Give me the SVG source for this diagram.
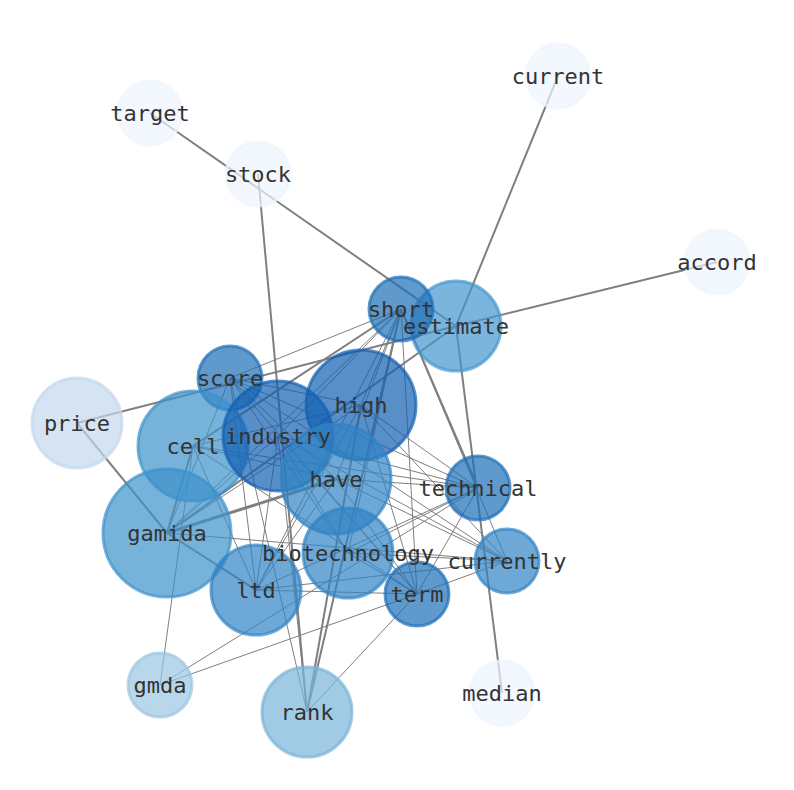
<svg xmlns="http://www.w3.org/2000/svg" width="794" height="790" viewBox="0 0 794 790">
<style>
.e{stroke:#7f7f7f;fill:none;stroke-width:1}
.w2{stroke-width:2}
.w3{stroke-width:3}
.n{fill-opacity:0.7;stroke-opacity:0.7;stroke-width:3}
.t{font-family:"DejaVu Sans Mono","Liberation Mono",monospace;font-size:22px;fill:#333;text-anchor:middle;dominant-baseline:central}
</style>
<rect width="794" height="790" fill="#fff"/>
<g id="edges">
<line class="e w2" x1="150" y1="113" x2="456" y2="326"/>
<line class="e w2" x1="558" y1="76" x2="456" y2="326"/>
<line class="e w2" x1="717" y1="262" x2="456" y2="326"/>
<line class="e w2" x1="502" y1="693" x2="456" y2="326"/>
<line class="e w2" x1="258" y1="174" x2="307" y2="712"/>
<line class="e w2" x1="77" y1="423" x2="456" y2="326"/>
<line class="e w2" x1="77" y1="423" x2="167" y2="533"/>
<line class="e w2" x1="456" y1="326" x2="167" y2="533"/>
<line class="e" x1="401" y1="309" x2="230" y2="378"/>
<line class="e w2" x1="401" y1="309" x2="193" y2="446"/>
<line class="e" x1="401" y1="309" x2="278" y2="436"/>
<line class="e" x1="401" y1="309" x2="361" y2="405"/>
<line class="e" x1="401" y1="309" x2="336" y2="479"/>
<line class="e" x1="401" y1="309" x2="167" y2="533"/>
<line class="e" x1="401" y1="309" x2="256" y2="590"/>
<line class="e" x1="401" y1="309" x2="348" y2="553"/>
<line class="e w2" x1="401" y1="309" x2="307" y2="712"/>
<line class="e" x1="401" y1="309" x2="417" y2="594"/>
<line class="e w2" x1="401" y1="309" x2="478" y2="488"/>
<line class="e" x1="401" y1="309" x2="507" y2="561"/>
<line class="e" x1="230" y1="378" x2="361" y2="405"/>
<line class="e" x1="230" y1="378" x2="336" y2="479"/>
<line class="e" x1="230" y1="378" x2="478" y2="488"/>
<line class="e" x1="230" y1="378" x2="417" y2="594"/>
<line class="e" x1="230" y1="378" x2="507" y2="561"/>
<line class="e" x1="230" y1="378" x2="256" y2="590"/>
<line class="e" x1="230" y1="378" x2="348" y2="553"/>
<line class="e" x1="230" y1="378" x2="307" y2="712"/>
<line class="e" x1="230" y1="378" x2="167" y2="533"/>
<line class="e w2" x1="193" y1="446" x2="167" y2="533"/>
<line class="e" x1="193" y1="446" x2="361" y2="405"/>
<line class="e" x1="193" y1="446" x2="336" y2="479"/>
<line class="e" x1="193" y1="446" x2="256" y2="590"/>
<line class="e" x1="193" y1="446" x2="417" y2="594"/>
<line class="e" x1="193" y1="446" x2="478" y2="488"/>
<line class="e" x1="193" y1="446" x2="160" y2="685"/>
<line class="e" x1="278" y1="436" x2="478" y2="488"/>
<line class="e" x1="278" y1="436" x2="507" y2="561"/>
<line class="e" x1="278" y1="436" x2="417" y2="594"/>
<line class="e" x1="278" y1="436" x2="348" y2="553"/>
<line class="e" x1="278" y1="436" x2="256" y2="590"/>
<line class="e" x1="278" y1="436" x2="167" y2="533"/>
<line class="e" x1="278" y1="436" x2="307" y2="712"/>
<line class="e" x1="361" y1="405" x2="478" y2="488"/>
<line class="e" x1="361" y1="405" x2="507" y2="561"/>
<line class="e" x1="361" y1="405" x2="417" y2="594"/>
<line class="e" x1="361" y1="405" x2="256" y2="590"/>
<line class="e" x1="361" y1="405" x2="167" y2="533"/>
<line class="e w2" x1="361" y1="405" x2="307" y2="712"/>
<line class="e w3" x1="336" y1="479" x2="167" y2="533"/>
<line class="e" x1="336" y1="479" x2="478" y2="488"/>
<line class="e" x1="336" y1="479" x2="417" y2="594"/>
<line class="e" x1="336" y1="479" x2="507" y2="561"/>
<line class="e" x1="336" y1="479" x2="256" y2="590"/>
<line class="e" x1="478" y1="488" x2="348" y2="553"/>
<line class="e" x1="478" y1="488" x2="256" y2="590"/>
<line class="e" x1="478" y1="488" x2="417" y2="594"/>
<line class="e" x1="478" y1="488" x2="160" y2="685"/>
<line class="e w2" x1="167" y1="533" x2="256" y2="590"/>
<line class="e" x1="167" y1="533" x2="507" y2="561"/>
<line class="e" x1="348" y1="553" x2="507" y2="561"/>
<line class="e" x1="348" y1="553" x2="417" y2="594"/>
<line class="e" x1="256" y1="590" x2="417" y2="594"/>
<line class="e" x1="256" y1="590" x2="507" y2="561"/>
<line class="e" x1="417" y1="594" x2="160" y2="685"/>
<line class="e" x1="417" y1="594" x2="307" y2="712"/>
<line class="e" x1="417" y1="594" x2="507" y2="561"/>
</g>
<g id="node-current"><circle class="n" cx="558" cy="76" r="32" fill="#eef5fd" stroke="#eef5fd"/><text class="t" x="558" y="76">current</text></g>
<g id="node-target"><circle class="n" cx="150" cy="113" r="32" fill="#eef5fd" stroke="#eef5fd"/><text class="t" x="150" y="113">target</text></g>
<g id="node-stock"><circle class="n" cx="258" cy="174" r="32" fill="#eef5fd" stroke="#eef5fd"/><text class="t" x="258" y="174">stock</text></g>
<g id="node-accord"><circle class="n" cx="717" cy="262" r="32" fill="#eef5fd" stroke="#eef5fd"/><text class="t" x="717" y="262">accord</text></g>
<g id="node-median"><circle class="n" cx="502" cy="693" r="32" fill="#eef5fd" stroke="#eef5fd"/><text class="t" x="502" y="693">median</text></g>
<g id="node-price"><circle class="n" cx="77" cy="423" r="45" fill="#c3d7ec" stroke="#c3d7ec"/><text class="t" x="77" y="423">price</text></g>
<g id="node-gmda"><circle class="n" cx="160" cy="685" r="32" fill="#9bc6e1" stroke="#9bc6e1"/><text class="t" x="160" y="685">gmda</text></g>
<g id="node-rank"><circle class="n" cx="307" cy="712" r="45" fill="#79b3d8" stroke="#79b3d8"/><text class="t" x="307" y="712">rank</text></g>
<g id="node-estimate"><circle class="n" cx="456" cy="326" r="45" fill="#4396cf" stroke="#4396cf"/></g>
<g id="node-short"><circle class="n" cx="401" cy="309" r="32" fill="#1d6db6" stroke="#1d6db6"/></g>
<g id="node-score"><circle class="n" cx="230" cy="378" r="32" fill="#1d6db6" stroke="#1d6db6"/></g>
<g id="node-cell"><circle class="n" cx="193" cy="446" r="55" fill="#3d91cc" stroke="#3d91cc"/></g>
<g id="node-gamida"><circle class="n" cx="167" cy="533" r="64" fill="#3d91cc" stroke="#3d91cc"/></g>
<g id="node-high"><circle class="n" cx="361" cy="405" r="55" fill="#135fb0" stroke="#135fb0"/></g>
<g id="node-industry"><circle class="n" cx="278" cy="436" r="55" fill="#135fb0" stroke="#135fb0"/></g>
<g id="node-have"><circle class="n" cx="336" cy="479" r="55" fill="#3083c4" stroke="#3083c4"/></g>
<g id="node-technical"><circle class="n" cx="478" cy="488" r="32" fill="#1d6db6" stroke="#1d6db6"/></g>
<g id="node-biotechnology"><circle class="n" cx="348" cy="553" r="45" fill="#3083c4" stroke="#3083c4"/></g>
<g id="node-currently"><circle class="n" cx="507" cy="561" r="32" fill="#3083c4" stroke="#3083c4"/></g>
<g id="node-ltd"><circle class="n" cx="256" cy="590" r="45" fill="#3083c4" stroke="#3083c4"/></g>
<g id="node-term"><circle class="n" cx="417" cy="594" r="32" fill="#1d6db6" stroke="#1d6db6"/></g>
<g id="labels">
<text class="t" x="456" y="326">estimate</text>
<text class="t" x="401" y="309">short</text>
<text class="t" x="230" y="378">score</text>
<text class="t" x="193" y="446">cell</text>
<text class="t" x="167" y="533">gamida</text>
<text class="t" x="361" y="405">high</text>
<text class="t" x="278" y="436">industry</text>
<text class="t" x="336" y="479">have</text>
<text class="t" x="478" y="488">technical</text>
<text class="t" x="348" y="553">biotechnology</text>
<text class="t" x="507" y="561">currently</text>
<text class="t" x="256" y="590">ltd</text>
<text class="t" x="417" y="594">term</text>
</g>
</svg>
